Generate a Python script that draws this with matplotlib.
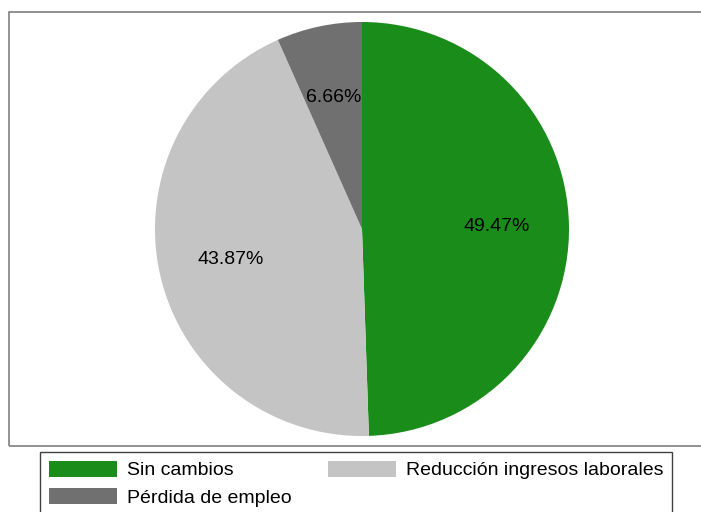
import matplotlib.pyplot as plt
from matplotlib.patches import Rectangle

plt.rcParams['font.family'] = ['Liberation Sans', 'DejaVu Sans']

# data
categories = ['Sin cambios', 'Reducción ingresos laborales', 'Pérdida de empleo']
shares = [49.47, 43.87, 6.66]
colors = ['#1a8c1a', '#c4c4c4', '#707070']

W, H = 701, 512
fig = plt.figure(figsize=(W / 100, H / 100), dpi=100)

# outer plot region box
fig.patches.append(Rectangle((9 / W, 1 - 446 / H), 700 / W, (446 - 12) / H,
                             transform=fig.transFigure, fill=False,
                             edgecolor='#7f7f7f', linewidth=1.2))

# pie axes, centre ~ (362, 229), radius ~207 px
cx, cy, r = 362, 229, 207
ax = fig.add_axes([(cx - r) / W, (H - cy - r) / H, 2 * r / W, 2 * r / H])
wedges, texts, autotexts = ax.pie(shares, colors=colors, startangle=90,
                                  counterclock=False, autopct='%.2f%%',
                                  pctdistance=0.65, radius=1,
                                  textprops={'fontsize': 14, 'color': 'black'})
ax.set_xlim(-1, 1)
ax.set_ylim(-1, 1)
ax.set_aspect('equal')
ax.axis('off')

# legend: column-major fill, so reorder to get the row layout
order = [0, 2, 1]
leg = fig.legend([wedges[i] for i in order], [categories[i] for i in order],
                 ncol=2, loc='upper left', borderaxespad=0,
                 bbox_to_anchor=(40 / W, 1 - 452 / H),
                 fontsize=14, handlelength=3.5, handleheight=0.87,
                 handletextpad=0.5, labelspacing=0.45, borderpad=0.45,
                 columnspacing=1.9, fancybox=False, framealpha=1,
                 edgecolor='#404040')
leg.get_frame().set_linewidth(1.0)

fig.savefig('out.png', dpi=100)
